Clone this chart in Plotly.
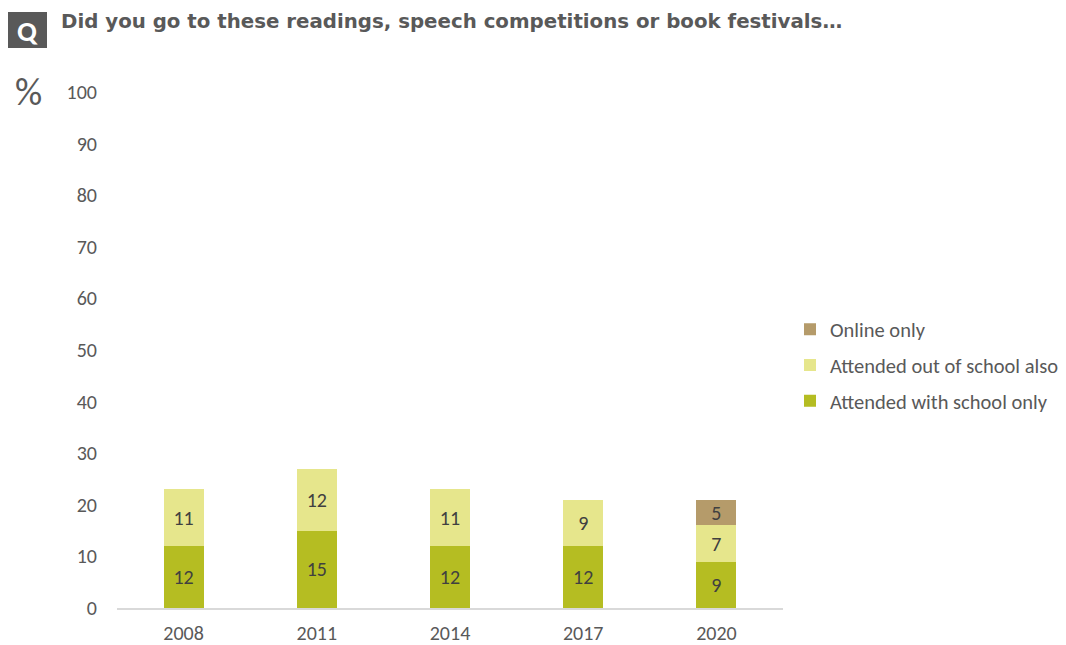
import plotly.graph_objects as go

years = ["2008", "2011", "2014", "2017", "2020"]
with_school = [12, 15, 12, 12, 9]
out_of_school = [11, 12, 11, 9, 7]
online_only = [None, None, None, None, 5]
series_names = ["Attended with school only", "Attended out of school also", "Online only"]
series_colors = ["#B5BD22", "#E6E68C", "#B59B6A"]
y_ticks = [0, 10, 20, 30, 40, 50, 60, 70, 80, 90, 100]
title_text = "Did you go to these readings, speech competitions or book festivals…"

GREY = "#595959"
FONT = "Carlito, Calibri, Lato, sans-serif"
OFF = 8  # body margin of the page
FW, FH = 1058, 637  # figure fits inside the 1066x645 window after the body margin
PL, PR, PT, PB = 117, 783, 92, 608  # plot area in page pixels
W = PR - PL
H = PB - PT


def px(x):
    return (x - PL) / W


def py(y):
    return (PB - y) / H


fig = go.Figure()
for i, (name, vals) in enumerate(zip(series_names, [with_school, out_of_school, online_only])):
    fig.add_trace(go.Bar(
        x=years, y=vals, name=name, marker_color=series_colors[i],
        marker_line_width=0, width=0.3,
        texttemplate="%{y}", textposition="inside", insidetextanchor="middle",
        textangle=0, insidetextfont=dict(color="#404040", size=20, family=FONT),
        legendgroup=name, legendrank=3 - i,
    ))

fig.update_layout(
    barmode="stack",
    width=FW, height=FH,
    margin=dict(l=PL - OFF, r=FW - (PR - OFF), t=PT - OFF, b=FH - (PB - OFF)),
    plot_bgcolor="white", paper_bgcolor="white",
    font=dict(family=FONT, color=GREY, size=20),
    uniformtext=dict(minsize=20, mode="show"),
    showlegend=True,
    legend=dict(xref="container", yref="container",
                x=(790 - OFF) / FW, xanchor="left",
                y=1 - (365 - OFF) / FH, yanchor="middle",
                traceorder="grouped", tracegroupgap=6,
                font=dict(size=20.5, color=GREY, family=FONT), itemwidth=30),
    xaxis=dict(showline=True, linecolor="#D9D9D9", linewidth=1.5, ticks="",
               tickfont=dict(size=20, color=GREY), showgrid=False,
               ticklabelstandoff=6, automargin=False),
    yaxis=dict(range=[0, 100], tickvals=y_ticks, showgrid=False, zeroline=False,
               showline=False, ticks="", ticklen=0, ticklabelstandoff=19,
               tickfont=dict(size=20, color=GREY), automargin=False),
)

fig.add_shape(type="rect", xref="paper", yref="paper",
              x0=px(8), x1=px(47), y0=py(48), y1=py(12),
              fillcolor=GREY, line_width=0, layer="above")
fig.add_annotation(text="<b>Q</b>", xref="paper", yref="paper",
                   x=px(27.5), y=py(31), xanchor="center", yanchor="middle",
                   showarrow=False, font=dict(size=29, color="white", family=FONT))
fig.add_annotation(text="<b>" + title_text + "</b>", xref="paper", yref="paper",
                   x=px(59), y=py(22), xanchor="left", yanchor="middle",
                   showarrow=False, font=dict(size=19.8, color=GREY, family="DejaVu Sans, sans-serif"))
fig.add_annotation(text="%", xref="paper", yref="paper",
                   x=px(28.5), y=py(92), xanchor="center", yanchor="middle",
                   showarrow=False, font=dict(size=38, color=GREY, family=FONT))

fig.write_html("out.html")
